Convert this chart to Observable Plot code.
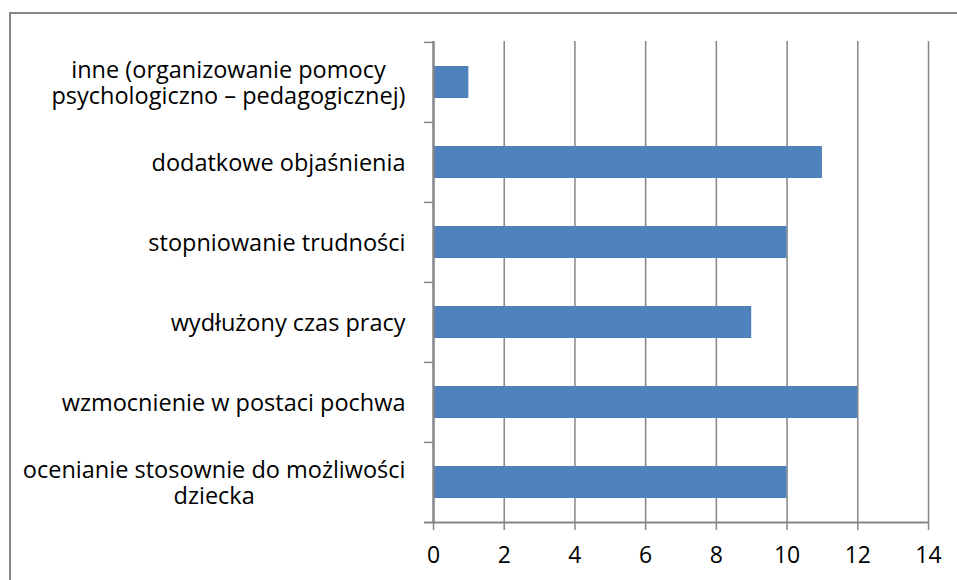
<!DOCTYPE html>
<html><head><meta charset="utf-8">
<script src="https://cdn.jsdelivr.net/npm/d3@7"></script>
<script src="https://cdn.jsdelivr.net/npm/@observablehq/plot@0.6"></script>
<style>
body{margin:0;background:#fff;}
#wrap{position:relative;width:957px;height:580px;overflow:hidden;background:#fff;}
#border{position:absolute;left:9px;top:12px;width:1000px;height:1000px;border:2px solid #868686;}
#chart{position:absolute;left:0;top:0;}
</style></head>
<body><div id="wrap"><div id="border"></div><div id="chart"></div></div>
<script>
const categories = [
  "inne (organizowanie pomocy psychologiczno – pedagogicznej)",
  "dodatkowe objaśnienia",
  "stopniowanie trudności",
  "wydłużony czas pracy",
  "wzmocnienie w postaci pochwa",
  "ocenianie stosownie do możliwości dziecka"
];
const labelLines = [
  ["inne (organizowanie pomocy", "psychologiczno – pedagogicznej)"],
  ["dodatkowe objaśnienia"],
  ["stopniowanie trudności"],
  ["wydłużony czas pracy"],
  ["wzmocnienie w postaci pochwa"],
  ["ocenianie stosownie do możliwości", "dziecka"]
];
const values = [1, 11, 10, 9, 12, 10];
const xTicks = [0, 2, 4, 6, 8, 10, 12, 14];

const data = categories.map((c, i) => ({cat: c, value: values[i], lines: labelLines[i]}));

const W = 957, H = 580, mt = 41, mb = 58, ml = 433, mr = 29;
const step = (H - mt - mb) / categories.length;
const gray = "#868686";
const font = "Open Sans";
const labelSize = 23.5;
const labelGap = 28;

const ctx = document.createElement("canvas").getContext("2d");
ctx.font = `${labelSize}px "${font}"`;
const blockWidth = d => d3.max(d.lines, l => ctx.measureText(l).width);

const labelMarks = data.map(d => Plot.text([d], {
  y: "cat",
  x: () => 0,
  text: dd => dd.lines.join("\n"),
  textAnchor: "middle",
  lineHeight: 1.1,
  fontSize: labelSize,
  fill: "#000",
  dx: -(labelGap + blockWidth(d) / 2)
}));

const xMax = d3.max(xTicks);

const plot = Plot.plot({
  width: W, height: H,
  marginTop: mt, marginBottom: mb, marginLeft: ml, marginRight: mr,
  style: {fontFamily: `"${font}"`, background: "transparent", overflow: "visible"},
  x: {domain: [0, xMax], axis: null},
  y: {domain: categories, paddingInner: 0.6, paddingOuter: 0.3, axis: null},
  marks: [
    Plot.ruleX(xTicks.filter(t => t > 0), {stroke: gray, strokeWidth: 1.5, strokeOpacity: 1}),
    Plot.barX(data, {y: "cat", x: "value", fill: "#4F81BD"}),
    Plot.ruleX([0], {stroke: gray, strokeWidth: 2.5, strokeOpacity: 1}),
    // category boundary ticks on the left axis
    Plot.ruleY(data, {y: "cat", x1: () => 0, x2: () => 0, insetLeft: -9, dy: -step / 2, stroke: gray, strokeWidth: 1.5}),
    // bottom axis line
    Plot.ruleY(data.slice(-1), {y: "cat", x1: () => 0, x2: () => xMax, insetLeft: -9, dy: step / 2, stroke: gray, strokeWidth: 2}),
    Plot.axisX({ticks: xTicks, tickSize: 8, tickPadding: 16, stroke: gray, strokeWidth: 1.5, strokeOpacity: 1,
      fontSize: 23, fill: "#000", tickFormat: d3.format("d"), label: null}),
    ...labelMarks
  ]
});
document.getElementById("chart").appendChild(plot);
</script>
</body></html>
